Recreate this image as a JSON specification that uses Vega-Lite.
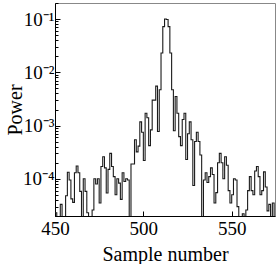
{
  "$schema": "https://vega.github.io/schema/vega-lite/v6.json",
  "width": 220,
  "height": 213,
  "autosize": {"type": "none"},
  "padding": {"left": 55, "top": 3, "right": 3, "bottom": 48},
  "config": {
    "view": {"stroke": "#888888", "strokeWidth": 1},
    "font": "Liberation Serif",
    "axis": {"grid": false, "domainColor": "#000000", "tickColor": "#000000", "labelColor": "#000000", "titleColor": "#000000", "titleFontWeight": "normal", "labelFont": "Liberation Serif", "titleFont": "Liberation Serif"}
  },
  "data": {"values": [
    {"sample": 450, "power": 2.3e-5}, {"sample": 451, "power": 1.2e-5}, {"sample": 452, "power": 1.4e-5}, {"sample": 453, "power": 3.3e-5},
    {"sample": 454, "power": 1.1e-5}, {"sample": 455, "power": 1.3e-5}, {"sample": 456, "power": 4.8e-5}, {"sample": 457, "power": 1.33e-4},
    {"sample": 458, "power": 9.5e-5}, {"sample": 459, "power": 4.2e-5}, {"sample": 460, "power": 3.6e-5}, {"sample": 461, "power": 1.3e-4},
    {"sample": 462, "power": 1.74e-4}, {"sample": 463, "power": 1.3e-4}, {"sample": 464, "power": 5.8e-5}, {"sample": 465, "power": 1.1e-5},
    {"sample": 466, "power": 1.0e-4}, {"sample": 467, "power": 5.8e-5}, {"sample": 468, "power": 2.3e-5}, {"sample": 469, "power": 1.6e-5},
    {"sample": 470, "power": 1.1e-5}, {"sample": 471, "power": 2.6e-5}, {"sample": 472, "power": 1.0e-4}, {"sample": 473, "power": 8.0e-5},
    {"sample": 474, "power": 1.0e-4}, {"sample": 475, "power": 3.5e-5}, {"sample": 476, "power": 1.7e-4}, {"sample": 477, "power": 2.6e-4},
    {"sample": 478, "power": 1.6e-4}, {"sample": 479, "power": 5.4e-5}, {"sample": 480, "power": 1.5e-4}, {"sample": 481, "power": 3.0e-4},
    {"sample": 482, "power": 1.7e-4}, {"sample": 483, "power": 1.1e-4}, {"sample": 484, "power": 5.0e-5}, {"sample": 485, "power": 1.0e-4},
    {"sample": 486, "power": 8.3e-5}, {"sample": 487, "power": 4.1e-5}, {"sample": 488, "power": 1.3e-4}, {"sample": 489, "power": 8.9e-5},
    {"sample": 490, "power": 1.0e-4}, {"sample": 491, "power": 9.5e-5}, {"sample": 492, "power": 1.1e-5}, {"sample": 493, "power": 1.9e-4},
    {"sample": 494, "power": 1.9e-4}, {"sample": 495, "power": 5.4e-4}, {"sample": 496, "power": 3.2e-4}, {"sample": 497, "power": 4.1e-4},
    {"sample": 498, "power": 1.17e-3}, {"sample": 499, "power": 7.5e-4}, {"sample": 500, "power": 2.2e-4}, {"sample": 501, "power": 1.7e-3},
    {"sample": 502, "power": 1.4e-3}, {"sample": 503, "power": 4.2e-4}, {"sample": 504, "power": 8.3e-4}, {"sample": 505, "power": 3.0e-3},
    {"sample": 506, "power": 3.0e-3}, {"sample": 507, "power": 5.5e-3}, {"sample": 508, "power": 7.7e-4}, {"sample": 509, "power": 4.7e-3},
    {"sample": 510, "power": 0.023}, {"sample": 511, "power": 0.072}, {"sample": 512, "power": 0.1}, {"sample": 513, "power": 0.098},
    {"sample": 514, "power": 0.072}, {"sample": 515, "power": 0.023}, {"sample": 516, "power": 4.7e-3}, {"sample": 517, "power": 8.0e-4},
    {"sample": 518, "power": 3.5e-3}, {"sample": 519, "power": 1.7e-3}, {"sample": 520, "power": 6.2e-4}, {"sample": 521, "power": 4.2e-4},
    {"sample": 522, "power": 1.3e-3}, {"sample": 523, "power": 1.7e-3}, {"sample": 524, "power": 2.3e-4}, {"sample": 525, "power": 7.0e-4},
    {"sample": 526, "power": 1.17e-3}, {"sample": 527, "power": 5.4e-4}, {"sample": 528, "power": 7.5e-5}, {"sample": 529, "power": 5.0e-4},
    {"sample": 530, "power": 7.5e-4}, {"sample": 531, "power": 5.0e-4}, {"sample": 532, "power": 2.8e-4}, {"sample": 533, "power": 1.1e-5},
    {"sample": 534, "power": 9.5e-5}, {"sample": 535, "power": 1.3e-4}, {"sample": 536, "power": 8.5e-5}, {"sample": 537, "power": 1.1e-4},
    {"sample": 538, "power": 1.6e-4}, {"sample": 539, "power": 1.2e-4}, {"sample": 540, "power": 3.5e-5}, {"sample": 541, "power": 5.5e-5},
    {"sample": 542, "power": 2.0e-4}, {"sample": 543, "power": 3.0e-4}, {"sample": 544, "power": 2.0e-4}, {"sample": 545, "power": 1.0e-4},
    {"sample": 546, "power": 2.6e-4}, {"sample": 547, "power": 1.8e-4}, {"sample": 548, "power": 6.0e-5}, {"sample": 549, "power": 3.5e-5},
    {"sample": 550, "power": 5.0e-5}, {"sample": 551, "power": 1.0e-4}, {"sample": 552, "power": 9.5e-5}, {"sample": 553, "power": 3.0e-5},
    {"sample": 554, "power": 1.2e-5}, {"sample": 555, "power": 1.1e-5}, {"sample": 556, "power": 2.2e-5}, {"sample": 557, "power": 1.1e-5},
    {"sample": 558, "power": 2.6e-5}, {"sample": 559, "power": 6.0e-5}, {"sample": 560, "power": 1.1e-4}, {"sample": 561, "power": 6.0e-5},
    {"sample": 562, "power": 5.0e-5}, {"sample": 563, "power": 1.4e-4}, {"sample": 564, "power": 1.7e-4}, {"sample": 565, "power": 1.1e-4},
    {"sample": 566, "power": 5.0e-5}, {"sample": 567, "power": 6.0e-5}, {"sample": 568, "power": 1.35e-4}, {"sample": 569, "power": 7.0e-5},
    {"sample": 570, "power": 2.5e-5}, {"sample": 571, "power": 3.3e-5}, {"sample": 572, "power": 1.1e-5}, {"sample": 573, "power": 3.5e-5},
    {"sample": 574, "power": 1.1e-5}, {"sample": 575, "power": 1.1e-5}
  ]},
  "layer": [
    {
      "mark": {"type": "line", "interpolate": "step-after", "clip": true, "color": "#1a1a1a", "strokeWidth": 1.1},
      "encoding": {
        "x": {"field": "sample", "type": "quantitative",
          "scale": {"domain": [450, 574.5], "nice": false, "zero": false},
          "axis": {"values": [450, 500, 550], "title": "Sample number", "tickSize": -5, "labelFontSize": 19, "titleFontSize": 20, "labelPadding": 8, "titlePadding": 6, "labelFlush": false}},
        "y": {"field": "power", "type": "quantitative",
          "scale": {"type": "log", "domain": [2e-5, 0.2], "nice": false},
          "axis": {"orient": "left", "values": [0.0001, 0.001, 0.01, 0.1], "title": "Power", "tickSize": -5, "labelFontSize": 19, "titleFontSize": 20, "labelPadding": 6,
            "titleX": -34, "titleY": 106.5, "titleAngle": -90, "titleAlign": "center", "titleBaseline": "alphabetic",
            "labelExpr": "datum.value >= 0.05 ? '10⁻¹' : datum.value >= 0.005 ? '10⁻²' : datum.value >= 0.0005 ? '10⁻³' : '10⁻⁴'"}}
      }
    },
    {
      "mark": {"type": "rule", "opacity": 0},
      "encoding": {
        "y": {"field": "power", "type": "quantitative",
          "axis": {"orient": "left", "title": null, "labels": false, "domain": false, "tickSize": -3,
            "values": [2e-5, 3e-5, 4e-5, 5e-5, 6e-5, 7e-5, 8e-5, 9e-5, 2e-4, 3e-4, 4e-4, 5e-4, 6e-4, 7e-4, 8e-4, 9e-4, 0.002, 0.003, 0.004, 0.005, 0.006, 0.007, 0.008, 0.009, 0.02, 0.03, 0.04, 0.05, 0.06, 0.07, 0.08, 0.09, 0.2]}}
      }
    }
  ],
  "resolve": {"axis": {"y": "independent"}}
}
